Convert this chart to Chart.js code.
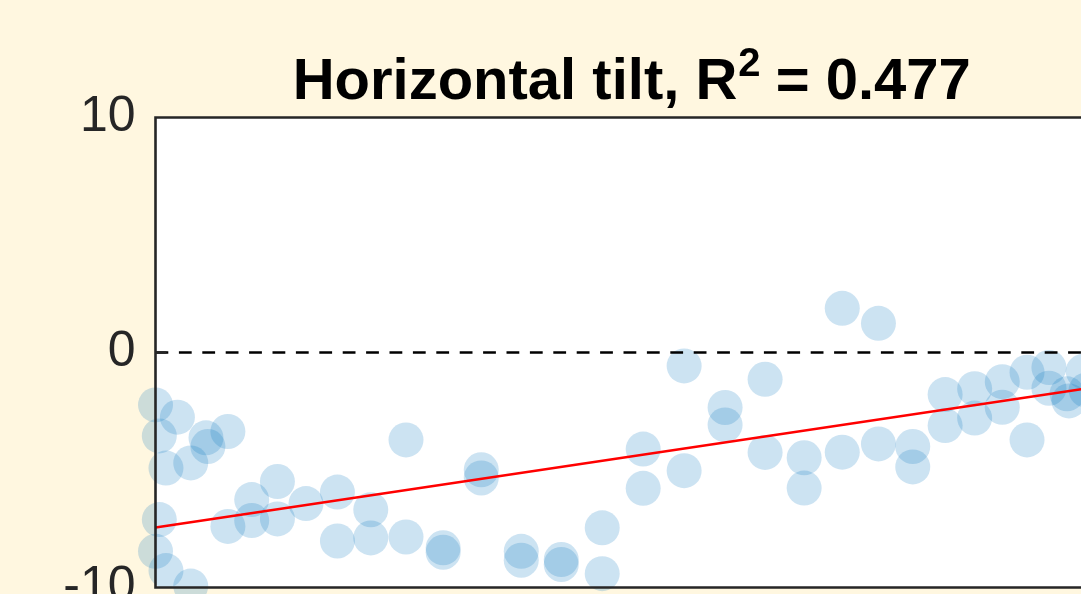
<!DOCTYPE html>
<html>
<head>
<meta charset="utf-8">
<script src="https://cdn.jsdelivr.net/npm/chart.js@4.4.1/dist/chart.umd.min.js"></script>
<style>
  html, body { margin: 0; padding: 0; background: #FFF7E0; overflow: hidden; width: 1081px; height: 594px; }
  canvas { display: block; }
</style>
</head>
<body>
<canvas id="tiltChart" width="1140" height="700"></canvas>
<script>
// Per-sample position along the session and the measured horizontal tilt
const sampleX = [0.0, 2.3, 0.4, 5.3, 5.5, 7.6, 1.1, 3.7, 0.4, 0.0, 1.1, 3.7, 7.6,
  10.1, 10.1, 12.8, 12.8, 15.8, 19.1, 19.1, 22.6, 22.6, 26.3, 26.3, 30.2, 30.2,
  34.2, 34.2, 38.4, 38.4, 42.6, 42.6, 46.9, 46.9, 51.2, 51.2, 55.5, 55.5, 59.8, 59.8,
  64.0, 64.0, 68.1, 68.1, 72.1, 72.1, 75.9, 75.9, 79.5, 79.5, 82.9, 82.9, 86.0, 86.0,
  88.9, 88.9, 91.5, 91.5, 93.8, 93.8, 95.7, 95.9, 97.4, 97.7];
const tiltY = [-2.23, -2.75, -3.55, -3.63, -4.00, -3.36, -4.92, -4.70, -7.11, -8.46, -9.28, -9.94, -7.40,
  -6.26, -7.15, -5.49, -7.08, -6.43, -5.94, -8.02, -6.69, -7.89, -3.72, -7.85, -8.31, -8.50,
  -4.99, -5.34, -8.46, -8.84, -8.81, -9.02, -7.46, -9.41, -4.11, -5.78, -0.57, -5.03, -2.34, -3.08,
  -1.14, -4.25, -4.48, -5.77, 1.88, -4.24, 1.24, -3.89, -4.00, -4.87, -1.79, -3.11, -1.54, -2.79,
  -1.24, -2.33, -0.84, -3.72, -0.64, -1.52, -1.76, -2.06, -0.80, -1.60];

// Least-squares fit end points
const fitX = [0, 100];
const fitY = [-7.45, -1.39];

// Axis range and tick labels
const xRange = [0, 100];
const yTicks = [-10, 0, 10];

// Title pieces (R with a superscript 2)
const titleMain = 'Horizontal tilt, R';
const titleSup = '2';
const titleTail = ' = 0.477';

const AXIS_COLOR = '#262626';
const FONT = '"Liberation Sans", Arial, Helvetica, sans-serif';

// White plotting area behind the data
const plotBackground = {
  id: 'plotBackground',
  beforeDatasetsDraw(chart) {
    const { ctx, chartArea: a } = chart;
    ctx.save();
    ctx.fillStyle = '#FFFFFF';
    ctx.fillRect(a.left, a.top, a.right - a.left, a.bottom - a.top);
    ctx.restore();
  }
};

// Boxed axes with inward tick marks, drawn above the markers
const axesBox = {
  id: 'axesBox',
  afterDatasetsDraw(chart) {
    const { ctx, chartArea: a, scales } = chart;
    ctx.save();
    ctx.strokeStyle = AXIS_COLOR;
    ctx.lineWidth = 2.6;
    ctx.beginPath();
    ctx.moveTo(a.left, a.top); ctx.lineTo(a.right, a.top);
    ctx.moveTo(a.left, a.bottom); ctx.lineTo(a.right, a.bottom);
    ctx.moveTo(a.left, a.top - 1.3); ctx.lineTo(a.left, a.bottom + 1.3);
    ctx.moveTo(a.right, a.top - 1.3); ctx.lineTo(a.right, a.bottom + 1.3);
    yTicks.forEach(v => {
      const y = scales.y.getPixelForValue(v);
      ctx.moveTo(a.left, y); ctx.lineTo(a.left + 11, y);
      ctx.moveTo(a.right, y); ctx.lineTo(a.right - 11, y);
    });
    ctx.stroke();
    ctx.restore();
  }
};

// Title with a raised exponent
const supTitle = {
  id: 'supTitle',
  afterDraw(chart) {
    const { ctx, chartArea: a } = chart;
    const mainFont = 'bold 58px ' + FONT;
    const supFont = 'bold 40px ' + FONT;
    ctx.save();
    ctx.fillStyle = '#000000';
    ctx.textBaseline = 'alphabetic';
    ctx.textAlign = 'left';
    ctx.font = mainFont;
    const w1 = ctx.measureText(titleMain).width;
    const w3 = ctx.measureText(titleTail).width;
    ctx.font = supFont;
    const w2 = ctx.measureText(titleSup).width;
    const total = w1 + w2 + w3;
    const cx = (a.left + a.right) / 2;
    let x = cx - total / 2;
    const base = 99;
    ctx.font = mainFont;
    ctx.fillText(titleMain, x, base);
    x += w1;
    ctx.font = supFont;
    ctx.fillText(titleSup, x + 1, base - 23);
    x += w2;
    ctx.font = mainFont;
    ctx.fillText(titleTail, x, base);
    ctx.restore();
  }
};

new Chart(document.getElementById('tiltChart'), {
  type: 'scatter',
  data: {
    datasets: [
      {
        type: 'line',
        label: 'fit',
        data: fitX.map((x, i) => ({ x, y: fitY[i] })),
        borderColor: '#FF0000',
        borderWidth: 2.5,
        pointRadius: 0,
        fill: false,
        order: 1
      },
      {
        type: 'line',
        label: 'zero',
        data: xRange.map(x => ({ x, y: 0 })),
        borderColor: '#000000',
        borderWidth: 2.6,
        borderDash: [12.8, 10.6],
        pointRadius: 0,
        fill: false,
        order: 2
      },
      {
        label: 'samples',
        data: sampleX.map((x, i) => ({ x, y: tiltY[i] })),
        backgroundColor: 'rgba(0,114,189,0.2)',
        borderWidth: 0,
        pointRadius: 17.5,
        pointHoverRadius: 17.5,
        clip: false,
        order: 3
      }
    ]
  },
  options: {
    responsive: false,
    animation: false,
    devicePixelRatio: 1,
    layout: { padding: { top: 117.5, bottom: 112.5, left: 0, right: 32 } },
    plugins: { legend: { display: false }, tooltip: { enabled: false }, title: { display: false } },
    events: [],
    scales: {
      x: { type: 'linear', min: xRange[0], max: xRange[1], display: false },
      y: {
        type: 'linear',
        min: yTicks[0],
        max: yTicks[yTicks.length - 1],
        afterBuildTicks(scale) { scale.ticks = yTicks.map(v => ({ value: v })); },
        afterFit(scale) { scale.width = 155.5; },
        grid: { display: false, drawTicks: false },
        border: { display: false },
        ticks: {
          color: AXIS_COLOR,
          padding: 20,
          font: { family: FONT, size: 50 },
          callback: v => String(v)
        }
      }
    }
  },
  plugins: [plotBackground, axesBox, supTitle]
});
</script>
</body>
</html>
